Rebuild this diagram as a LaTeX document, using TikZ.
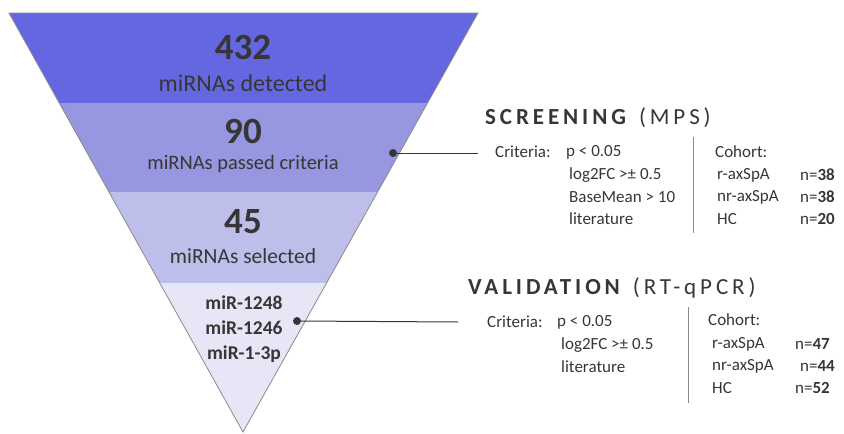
\documentclass[tikz,border=0pt]{standalone}
\usepackage{fontspec}
\setmainfont{Carlito}
\newfontfamily\spacedfont[LetterSpace=17]{Carlito}
\definecolor{bandA}{HTML}{6567E1}
\definecolor{bandB}{HTML}{9697E0}
\definecolor{bandC}{HTML}{BEBEEA}
\definecolor{bandD}{HTML}{E6E6F7}
\definecolor{ink}{HTML}{363636}
\definecolor{rule}{HTML}{8A8A8A}
\begin{document}
\begin{tikzpicture}[x=1pt,y=-1pt,
  every node/.style={text=ink,inner sep=0pt},
  bignum/.style={font=\fontsize{37}{40}\selectfont\bfseries},
  caption/.style={font=\fontsize{#1}{#1}\selectfont},
  caption/.default=21,
  mirna/.style={font=\fontsize{19.5}{25}\selectfont\bfseries,align=center},
  heading/.style={anchor=west,font=\fontsize{23}{26}\selectfont\spacedfont},
  item/.style={anchor=west,font=\fontsize{17}{18}\selectfont},
  count/.style={anchor=west,font=\fontsize{17}{18}\selectfont},
  pin/.style={draw=ink,line width=1pt},
  dot/.style={circle,fill=ink,minimum size=8pt,inner sep=0pt},
  divider/.style={draw=rule,line width=0.8pt}]
\useasboundingbox (0,0) rectangle (844,434);

% funnel bands, clipped to the triangle
\begin{scope}
  \clip (9,13) -- (478,13) -- (243,432) -- cycle;
  \fill[bandA] (0,0) rectangle (500,103);
  \fill[bandB] (0,103) rectangle (500,192);
  \fill[bandC] (0,192) rectangle (500,283);
  \fill[bandD] (0,283) rectangle (500,440);
\end{scope}
\draw[rule,line width=0.8pt] (9,13) -- (478,13) -- (243,432) -- cycle;

% funnel labels
\node[bignum] (n432) at (243,47) {432};
\node[caption=24] (c432) at (243,83) {miRNAs detected};
\node[bignum] (n90) at (243,131) {90};
\node[caption=20.5] (c90) at (243,164) {miRNAs passed criteria};
\node[bignum] (n45) at (243,222) {45};
\node[caption=21.5] (c45) at (243,256) {miRNAs selected};
\node[mirna] (final) at (244,329) {miR-1248\\miR-1246\\miR-1-3p};

% screening block
\node[heading] (hs) at (485,118) {\textbf{SCREENING} (MPS)};
\node[item] (cs) at (495,152) {Criteria:};
\node[item] (cs1) at (566,152) {p < 0.05};
\node[item] (cs2) at (569,175) {log2FC >± 0.5};
\node[item] (cs3) at (569,197) {BaseMean > 10};
\node[item] (cs4) at (569,219) {literature};
\coordinate (sdivtop) at (693,137);
\coordinate (sdivbot) at (693,233);
\draw[divider] (sdivtop) -- (sdivbot);
\node[item] (hs0) at (715,152) {Cohort:};
\node[item] (hs1) at (717,175) {r-axSpA};
\node[item] (hs2) at (717,197) {nr-axSpA};
\node[item] (hs3) at (717,219) {HC};
\node[count] (ns1) at (800,175) {n=\textbf{38}};
\node[count] (ns2) at (800,197) {n=\textbf{38}};
\node[count] (ns3) at (800,219) {n=\textbf{20}};

% validation block
\node[heading] (hv) at (468,288) {\textbf{VALIDATION} (RT-qPCR)};
\node[item] (cv) at (487,322) {Criteria:};
\node[item] (cv1) at (557,322) {p < 0.05};
\node[item] (cv2) at (561,345) {log2FC >± 0.5};
\node[item] (cv3) at (561,367) {literature};
\coordinate (vdivtop) at (688,307);
\coordinate (vdivbot) at (688,403);
\draw[divider] (vdivtop) -- (vdivbot);
\node[item] (hv0) at (708,320) {Cohort:};
\node[item] (hv1) at (712,344) {r-axSpA};
\node[item] (hv2) at (712,366) {nr-axSpA};
\node[item] (hv3) at (712,388) {HC};
\node[count] (nv1) at (795,344) {n=\textbf{47}};
\node[count] (nv2) at (800,366) {n=\textbf{44}};
\node[count] (nv3) at (795,388) {n=\textbf{52}};

% pins from funnel to the blocks
\node[dot] (ds) at (393,153) {};
\coordinate (es) at (478,153);
\draw[pin] (ds) -- (es);
\node[dot] (dv) at (297,321) {};
\coordinate (ev) at (458,322);
\draw[pin] (dv) -- (ev);
\end{tikzpicture}
\end{document}
